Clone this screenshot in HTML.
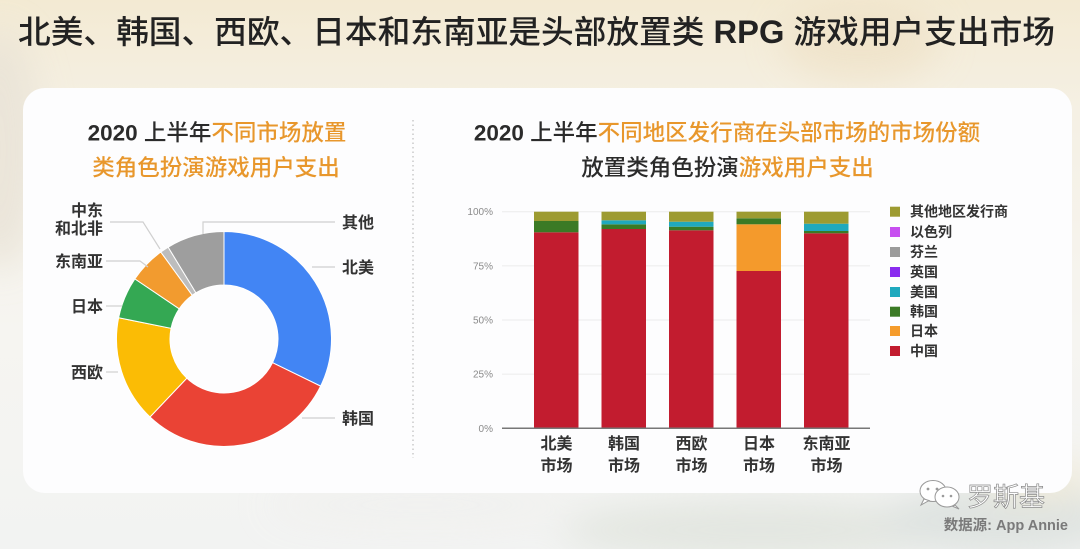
<!DOCTYPE html>
<html><head><meta charset="utf-8"><style>
html,body{margin:0;padding:0;}
body{width:1080px;height:549px;overflow:hidden;background:#f6f3ec;}
svg{display:block;}
text{font-family:"Liberation Sans","Noto Sans CJK SC",sans-serif;}
</style></head><body>
<svg width="1080" height="549" viewBox="0 0 1080 549" xmlns="http://www.w3.org/2000/svg">
<defs>
<linearGradient id="bg" x1="0" y1="0" x2="0" y2="1">
<stop offset="0" stop-color="#f3ead3"/>
<stop offset="0.2" stop-color="#f5f0e4"/>
<stop offset="0.6" stop-color="#f6f5f1"/>
<stop offset="1" stop-color="#f2f3f2"/>
</linearGradient>
<filter id="blur" x="-50%" y="-50%" width="200%" height="200%"><feGaussianBlur stdDeviation="18"/></filter>
</defs>
<rect x="0" y="0" width="1080" height="549" fill="url(#bg)"/>
<g filter="url(#blur)" opacity="0.8">
<ellipse cx="0" cy="150" rx="40" ry="120" fill="#e8e2d6"/>
<ellipse cx="760" cy="530" rx="200" ry="30" fill="#dfe3dc"/>
<ellipse cx="1000" cy="520" rx="120" ry="35" fill="#d9dfdc"/>
<ellipse cx="420" cy="505" rx="150" ry="20" fill="#f0f0ee"/>
<ellipse cx="1040" cy="480" rx="60" ry="20" fill="#f1ead6"/>
<ellipse cx="860" cy="40" rx="80" ry="40" fill="#efe2c8"/>
</g>

<!-- Title -->
<text x="18" y="43" font-size="32" font-weight="500" fill="#222" textLength="1037" lengthAdjust="spacingAndGlyphs">北美、韩国、西欧、日本和东南亚是头部放置类 <tspan font-weight="bold">RPG</tspan> 游戏用户支出市场</text>

<!-- Card -->
<rect x="23" y="88" width="1049" height="405" rx="22" ry="22" fill="#fdfdfe"/>

<!-- Left subtitle -->
<text x="217" y="140.5" font-size="22.5" font-weight="500" text-anchor="middle" fill="#2b2b2b"><tspan font-weight="bold">2020</tspan> 上半年<tspan fill="#e8972c">不同市场放置</tspan></text>
<text x="216" y="175.5" font-size="22.5" font-weight="500" text-anchor="middle" fill="#e8972c">类角色扮演游戏用户支出</text>

<!-- Right subtitle -->
<text x="727" y="140.5" font-size="22.5" font-weight="500" text-anchor="middle" fill="#2b2b2b"><tspan font-weight="bold">2020</tspan> 上半年<tspan fill="#e8972c">不同地区发行商在头部市场的市场份额</tspan></text>
<text x="727.5" y="175.5" font-size="22.5" font-weight="500" text-anchor="middle" fill="#2b2b2b">放置类角色扮演<tspan fill="#e8972c">游戏用户支出</tspan></text>

<!-- Divider -->
<line x1="413" y1="120" x2="413" y2="458" stroke="#bdbdbd" stroke-width="1.2" stroke-dasharray="1.5 3"/>

<!-- Donut -->
<g stroke="#ffffff" stroke-width="1">
<path d="M224 231.5 A107.5 107.5 0 0 1 320.62 386.13 L272.54 362.67 A54 54 0 0 0 224 285 Z" fill="#4285f4"/>
<path d="M320.62 386.13 A107.5 107.5 0 0 1 150.0 416.98 L186.83 378.17 A54 54 0 0 0 272.54 362.67 Z" fill="#ea4335"/>
<path d="M150.0 416.98 A107.5 107.5 0 0 1 118.62 317.75 L171.06 328.32 A54 54 0 0 0 186.83 378.17 Z" fill="#fbbc05"/>
<path d="M118.62 317.75 A107.5 107.5 0 0 1 134.88 278.89 L179.23 308.80 A54 54 0 0 0 171.06 328.32 Z" fill="#34a853"/>
<path d="M134.88 278.89 A107.5 107.5 0 0 1 160.81 252.03 L192.26 295.31 A54 54 0 0 0 179.23 308.80 Z" fill="#f29b2f"/>
<path d="M160.81 252.03 A107.5 107.5 0 0 1 168.15 247.14 L195.95 292.86 A54 54 0 0 0 192.26 295.31 Z" fill="#bdbdbd"/>
<path d="M168.15 247.14 A107.5 107.5 0 0 1 224 231.5 L224 285 A54 54 0 0 0 195.95 292.86 Z" fill="#9e9e9e"/>
</g>
<!-- Leader lines -->
<g stroke="#d0d0d0" stroke-width="1.2" fill="none">
<polyline points="203,234 203,222 335,222"/>
<polyline points="312,267 335,267"/>
<polyline points="302,418 335,418"/>
<polyline points="106,372 118,372"/>
<polyline points="106,306 122,306"/>
<polyline points="106,261 140,261 148,267"/>
<polyline points="110,222 143,222 160,249"/>
</g>
<g font-size="16" font-weight="bold" fill="#333">
<text x="342" y="228">其他</text>
<text x="342" y="273">北美</text>
<text x="342" y="424">韩国</text>
<text x="103" y="378" text-anchor="end">西欧</text>
<text x="103" y="312" text-anchor="end">日本</text>
<text x="103" y="267" text-anchor="end">东南亚</text>
<text x="103" y="216" text-anchor="end">中东</text>
<text x="103" y="234" text-anchor="end">和北非</text>
</g>

<!-- Bar chart grid -->
<g stroke="#ececec" stroke-width="1">
<line x1="502" y1="211.7" x2="870" y2="211.7"/>
<line x1="502" y1="265.9" x2="870" y2="265.9"/>
<line x1="502" y1="320" x2="870" y2="320"/>
<line x1="502" y1="374.1" x2="870" y2="374.1"/>
</g>
<g font-size="10" fill="#8a8a8a" text-anchor="end">
<text x="493" y="215.2">100%</text>
<text x="493" y="269.4">75%</text>
<text x="493" y="323.5">50%</text>
<text x="493" y="377.6">25%</text>
<text x="493" y="431.8">0%</text>
</g>

<!-- Bars -->
<g>
<rect x="534" y="232.3" width="44.5" height="196" fill="#c21c2f"/>
<rect x="534" y="221" width="44.5" height="11.3" fill="#3b7a25"/>
<rect x="534" y="211.7" width="44.5" height="9.3" fill="#9d9b31"/>
<rect x="601.5" y="229" width="44.5" height="199.3" fill="#c21c2f"/>
<rect x="601.5" y="224.3" width="44.5" height="4.7" fill="#3b7a25"/>
<rect x="601.5" y="220.3" width="44.5" height="4" fill="#20a9bd"/>
<rect x="601.5" y="211.7" width="44.5" height="8.6" fill="#9d9b31"/>
<rect x="669" y="230.3" width="44.5" height="198" fill="#c21c2f"/>
<rect x="669" y="226.7" width="44.5" height="3.6" fill="#3b7a25"/>
<rect x="669" y="221.7" width="44.5" height="5" fill="#20a9bd"/>
<rect x="669" y="211.7" width="44.5" height="10" fill="#9d9b31"/>
<rect x="736.5" y="271" width="44.5" height="157.3" fill="#c21c2f"/>
<rect x="736.5" y="224.3" width="44.5" height="46.7" fill="#f49a2c"/>
<rect x="736.5" y="218.3" width="44.5" height="6" fill="#3b7a25"/>
<rect x="736.5" y="211.7" width="44.5" height="6.6" fill="#9d9b31"/>
<rect x="804" y="233.3" width="44.5" height="195" fill="#c21c2f"/>
<rect x="804" y="231" width="44.5" height="2.3" fill="#3b7a25"/>
<rect x="804" y="223.7" width="44.5" height="7.3" fill="#20a9bd"/>
<rect x="804" y="211.7" width="44.5" height="12" fill="#9d9b31"/>
</g>
<line x1="502" y1="428.3" x2="870" y2="428.3" stroke="#777" stroke-width="1.5"/>

<g font-size="16" font-weight="bold" fill="#333" text-anchor="middle">
<text x="556.5" y="449">北美</text><text x="556.5" y="471">市场</text>
<text x="624" y="449">韩国</text><text x="624" y="471">市场</text>
<text x="691.5" y="449">西欧</text><text x="691.5" y="471">市场</text>
<text x="759" y="449">日本</text><text x="759" y="471">市场</text>
<text x="826.5" y="449">东南亚</text><text x="826.5" y="471">市场</text>
</g>

<!-- Legend -->
<g>
<rect x="890" y="206.7" width="10" height="10" fill="#9d9b31"/>
<rect x="890" y="227" width="10" height="10" fill="#c74ff0"/>
<rect x="890" y="247" width="10" height="10" fill="#9b9b9b"/>
<rect x="890" y="267" width="10" height="10" fill="#8a2cef"/>
<rect x="890" y="287" width="10" height="10" fill="#1fa9be"/>
<rect x="890" y="306.7" width="10" height="10" fill="#3b7a25"/>
<rect x="890" y="326" width="10" height="10" fill="#f59c2c"/>
<rect x="890" y="346" width="10" height="10" fill="#c21c2f"/>
</g>
<g font-size="14" font-weight="bold" fill="#333">
<text x="910" y="216.7">其他地区发行商</text>
<text x="910" y="237">以色列</text>
<text x="910" y="257">芬兰</text>
<text x="910" y="277">英国</text>
<text x="910" y="297">美国</text>
<text x="910" y="316.7">韩国</text>
<text x="910" y="336">日本</text>
<text x="910" y="356">中国</text>
</g>

<!-- Watermark -->
<g fill="#ffffff" stroke="#9a9a9a" stroke-width="1">
<ellipse cx="933" cy="491" rx="13" ry="10.5"/>
<path d="M924 499 L921 505 L929 500.5 Z"/>
<ellipse cx="947" cy="497" rx="12" ry="10"/>
<path d="M955 505 L959 509 L953 506.5 Z"/>
</g>
<g fill="#9a9a9a">
<circle cx="928" cy="489" r="1.4"/><circle cx="937" cy="489" r="1.4"/>
<circle cx="943" cy="496" r="1.3"/><circle cx="951" cy="496" r="1.3"/>
</g>
<text x="967" y="506" font-size="26" fill="#ffffff" stroke="#8a8a8a" stroke-width="0.7">罗斯基</text>
<text x="1068" y="530" font-size="14.5" font-weight="bold" fill="#7a7a7a" text-anchor="end">数据源: App Annie</text>
</svg>
</body></html>
